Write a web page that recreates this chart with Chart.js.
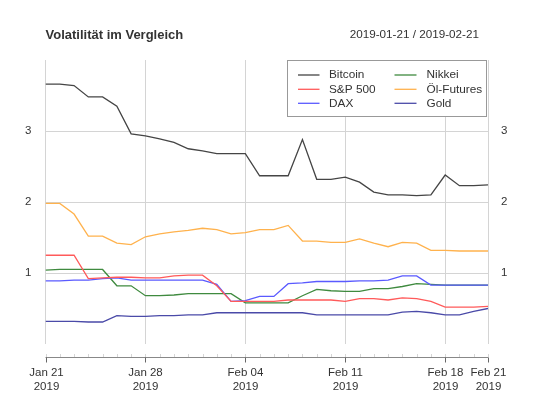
<!DOCTYPE html>
<html>
<head>
<meta charset="utf-8">
<script src="https://cdn.jsdelivr.net/npm/chart.js@4"></script>
<style>
html,body{margin:0;padding:0;background:#fff;}
#wrap{width:533px;height:400px;position:relative;}
</style>
</head>
<body>
<div id="wrap"><canvas id="c" width="533" height="400"></canvas></div>
<script>
// Day index 0 = 2019-01-21 ... 31 = 2019-02-21
const days = [0,1,2,3,4,5,6,7,8,9,10,11,12,13,14,15,16,17,18,19,20,21,22,23,24,25,26,27,28,29,30,31];
const tickDays = [0,7,14,21,28,31];
const tickLabels = [["Jan 21","2019"],["Jan 28","2019"],["Feb 04","2019"],["Feb 11","2019"],["Feb 18","2019"],["Feb 21","2019"]];
const yTicks = [1,2,3];

const bitcoin = [3.66,3.66,3.64,3.48,3.48,3.35,2.96,2.93,2.89,2.84,2.75,2.72,2.68,2.68,2.68,2.37,2.37,2.37,2.88,2.32,2.32,2.35,2.28,2.14,2.10,2.10,2.09,2.10,2.38,2.23,2.23,2.24];
const sp500   = [1.25,1.25,1.25,0.92,0.93,0.94,0.94,0.93,0.93,0.96,0.97,0.97,0.82,0.60,0.60,0.60,0.60,0.62,0.62,0.62,0.62,0.60,0.64,0.64,0.62,0.65,0.64,0.60,0.52,0.52,0.52,0.53];
const dax     = [0.89,0.89,0.90,0.90,0.92,0.93,0.90,0.90,0.90,0.90,0.90,0.90,0.84,0.60,0.61,0.67,0.67,0.85,0.86,0.88,0.88,0.88,0.89,0.89,0.90,0.96,0.96,0.83,0.83,0.83,0.83,0.83];
const nikkei  = [1.04,1.05,1.05,1.05,1.05,0.82,0.82,0.68,0.68,0.69,0.71,0.71,0.71,0.71,0.58,0.58,0.58,0.58,0.68,0.77,0.75,0.74,0.74,0.78,0.78,0.81,0.85,0.84,0.83,0.83,0.83,0.83];
const oil     = [1.98,1.98,1.83,1.52,1.52,1.42,1.40,1.51,1.55,1.58,1.60,1.63,1.61,1.55,1.57,1.61,1.61,1.67,1.45,1.45,1.43,1.43,1.48,1.42,1.37,1.43,1.42,1.32,1.32,1.31,1.31,1.31];
const gold    = [0.32,0.32,0.32,0.31,0.31,0.40,0.39,0.39,0.40,0.40,0.41,0.41,0.44,0.44,0.44,0.44,0.44,0.44,0.44,0.41,0.41,0.41,0.41,0.41,0.41,0.45,0.46,0.44,0.41,0.41,0.46,0.50];

const seriesNames = ["Bitcoin","S&P 500","DAX","Nikkei","Öl-Futures","Gold"];
const seriesColors = ["#454545","#ff5a5a","#5a5aff","#3f8a3f","#ffb24d","#4a4aa8"];
const seriesValues = [bitcoin, sp500, dax, nikkei, oil, gold];

const FONT = '"Liberation Sans", Arial, Helvetica, sans-serif';

const datasets = seriesNames.map((n,i)=>({
  label:n,
  data: days.map((d,j)=>({x:d,y:seriesValues[i][j]})),
  borderColor: seriesColors[i],
  backgroundColor: seriesColors[i],
  borderWidth: 1.3,
  pointRadius: 0,
  tension: 0,
  fill: false
}));

const decor = {
  id:'decor',
  afterDraw(chart){
    const ctx = chart.ctx;
    const xs = chart.scales.x;
    const ca = chart.chartArea;
    ctx.save();
    // titles
    ctx.fillStyle = '#333';
    ctx.textBaseline = 'middle';
    ctx.font = 'bold 13px ' + FONT;
    ctx.textAlign = 'left';
    ctx.fillText('Volatilität im Vergleich', ca.left, 35);
    ctx.font = '11.7px ' + FONT;
    ctx.textAlign = 'right';
    ctx.fillText('2019-01-21 / 2019-02-21', 479, 35);

    // custom x-axis below plot
    const axY = 357.5;
    const x0 = xs.getPixelForValue(days[0]);
    const x1 = xs.getPixelForValue(days[days.length-1]);
    ctx.strokeStyle = '#d6d6d6';
    ctx.lineWidth = 1;
    days.forEach(d=>{
      const px = Math.round(xs.getPixelForValue(d))+0.5;
      ctx.beginPath(); ctx.moveTo(px, axY); ctx.lineTo(px, axY-3.5); ctx.stroke();
    });
    ctx.strokeStyle = '#888';
    ctx.beginPath(); ctx.moveTo(x0, axY); ctx.lineTo(x1, axY); ctx.stroke();
    ctx.strokeStyle = '#666';
    tickDays.forEach((d,i)=>{
      const px = Math.round(xs.getPixelForValue(d))+0.5;
      ctx.beginPath(); ctx.moveTo(px, axY); ctx.lineTo(px, axY+5); ctx.stroke();
      ctx.fillStyle = '#333';
      ctx.font = '11.5px ' + FONT;
      ctx.textAlign = 'center';
      ctx.textBaseline = 'middle';
      ctx.fillText(tickLabels[i][0], px, 373);
      ctx.fillText(tickLabels[i][1], px, 387);
    });

    // legend box
    const bx = 287.5, by = 60.5, bw = 199, bh = 56;
    ctx.fillStyle = '#fff';
    ctx.fillRect(bx, by, bw, bh);
    ctx.strokeStyle = '#999';
    ctx.lineWidth = 1;
    ctx.strokeRect(bx, by, bw, bh);
    const rows = [75, 89.3, 103.3];
    const cols = [[298, 319.5, 329], [394.5, 416.5, 426.5]];
    chart.data.datasets.forEach((ds,i)=>{
      const col = cols[Math.floor(i/3)];
      const y = rows[i%3];
      ctx.strokeStyle = ds.borderColor;
      ctx.lineWidth = 1.3;
      ctx.beginPath(); ctx.moveTo(col[0], y); ctx.lineTo(col[1], y); ctx.stroke();
      ctx.fillStyle = '#333';
      ctx.font = '11.8px ' + FONT;
      ctx.textAlign = 'left';
      ctx.textBaseline = 'middle';
      ctx.fillText(ds.label, col[2], y);
    });
    ctx.restore();
  }
};

new Chart(document.getElementById('c'), {
  type:'line',
  data:{datasets},
  plugins:[decor],
  options:{
    responsive:false,
    animation:false,
    events:[],
    layout:{padding:{top:60,bottom:56,left:0,right:0}},
    plugins:{legend:{display:false},title:{display:false},tooltip:{enabled:false}},
    scales:{
      x:{
        type:'linear', min:days[0], max:days[days.length-1],
        afterBuildTicks(s){ s.ticks = tickDays.map(v=>({value:v})); },
        grid:{color:'#d4d4d4', lineWidth:1, drawTicks:false},
        border:{display:false},
        ticks:{display:false}
      },
      y:{
        position:'left', min:0, max:4,
        afterBuildTicks(s){ s.ticks = yTicks.map(v=>({value:v})); },
        afterFit(s){ s.width = 45.5; },
        grid:{color:'#d4d4d4', lineWidth:1, drawTicks:false},
        border:{display:false},
        ticks:{padding:14, color:'#333', font:{family:FONT, size:11.5}}
      },
      y2:{
        position:'right', min:0, max:4,
        afterBuildTicks(s){ s.ticks = yTicks.map(v=>({value:v})); },
        afterFit(s){ s.width = 45; },
        grid:{display:false, drawTicks:false},
        border:{display:false},
        ticks:{padding:13, color:'#333', font:{family:FONT, size:11.5}}
      }
    }
  }
});
</script>
</body>
</html>
